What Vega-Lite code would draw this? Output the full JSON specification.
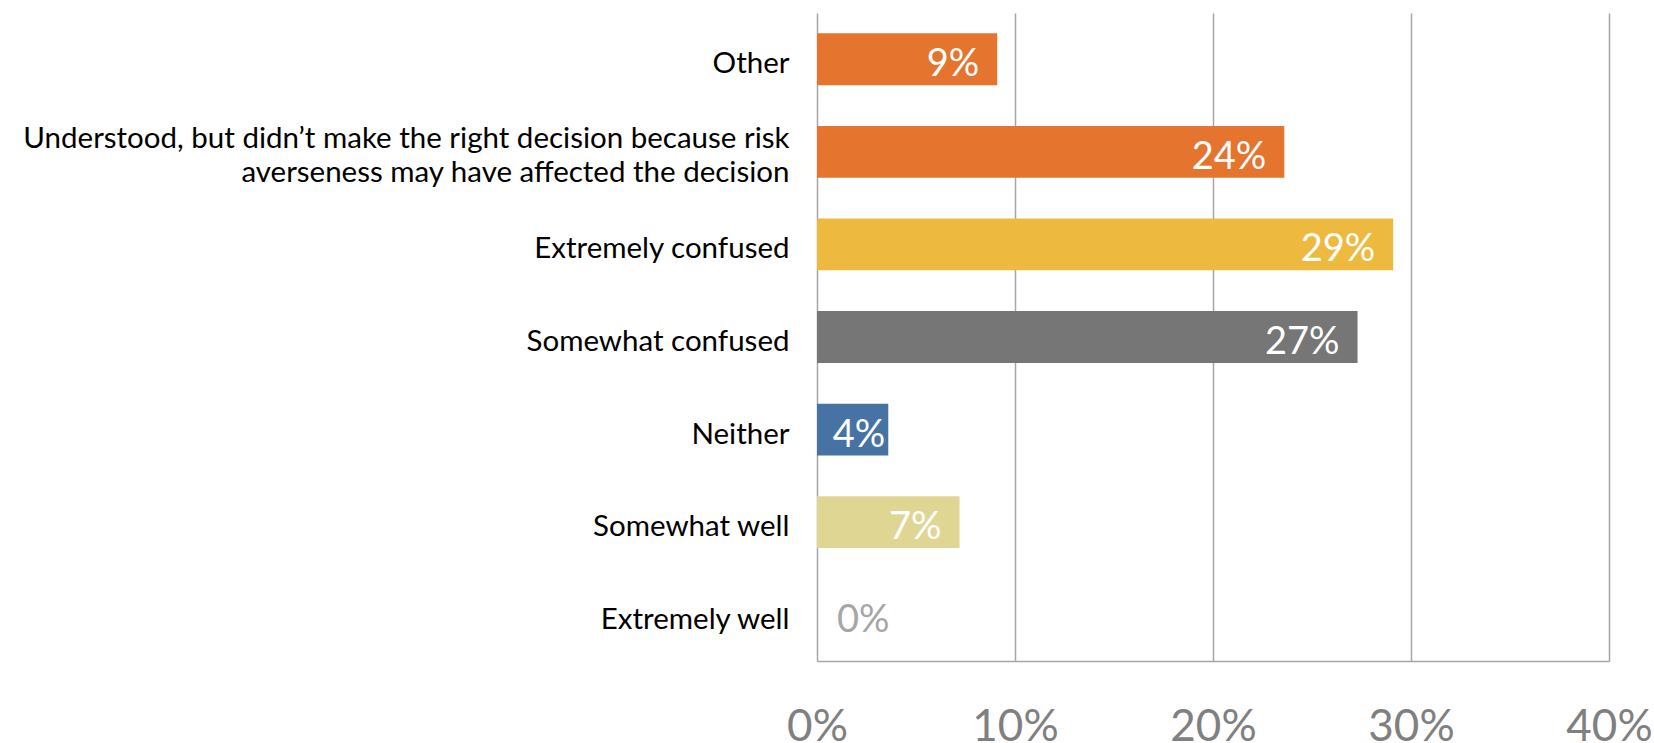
{
  "$schema": "https://vega.github.io/schema/vega-lite/v6.json",
  "autosize": {"type": "none"},
  "width": 792,
  "height": 648,
  "padding": {"left": 817, "top": 13, "right": 45, "bottom": 82},
  "background": "white",
  "config": {"view": {"stroke": null}, "font": "Lato"},
  "data": {
    "values": [
      {"category": "Other", "value": 0.091},
      {"category": "Understood, but didn’t make the right decision because risk averseness may have affected the decision", "value": 0.236},
      {"category": "Extremely confused", "value": 0.291},
      {"category": "Somewhat confused", "value": 0.273},
      {"category": "Neither", "value": 0.036},
      {"category": "Somewhat well", "value": 0.072},
      {"category": "Extremely well", "value": 0.0}
    ]
  },
  "encoding": {
    "y": {
      "field": "category",
      "type": "nominal",
      "sort": null,
      "scale": {"paddingInner": 0.44, "paddingOuter": 0.22},
      "axis": {
        "title": null,
        "domain": false,
        "ticks": false,
        "labelPadding": 28,
        "labelLimit": 900,
        "labelFont": "Lato",
        "labelFontSize": 29.5,
        "labelColor": "#000000",
        "labelLineHeight": 34,
        "labelOffset": {"condition": {"test": "indexof(datum.value, 'because risk ') > 0", "value": -13}, "value": 5},
        "labelExpr": "indexof(datum.label, 'because risk ') > 0 ? [slice(datum.label, 0, indexof(datum.label, 'because risk ') + 12), slice(datum.label, indexof(datum.label, 'because risk ') + 13)] : datum.label"
      }
    }
  },
  "layer": [
    {
      "mark": {"type": "bar"},
      "encoding": {
        "x": {
          "field": "value",
          "type": "quantitative",
          "scale": {"domain": [0, 0.4]},
          "axis": {
            "title": null,
            "values": [0, 0.1, 0.2, 0.3, 0.4],
            "format": ".0%",
            "grid": true,
            "gridColor": "#a6a6a6",
            "gridWidth": 1.5,
            "domain": true,
            "domainColor": "#a6a6a6",
            "domainWidth": 1.5,
            "ticks": false,
            "labelFlush": false,
            "labelBound": false,
            "labelOverlap": false,
            "labelPadding": 44,
            "labelFont": "Lato",
            "labelFontSize": 44,
            "labelColor": "#808080"
          }
        },
        "color": {
          "field": "category",
          "type": "nominal",
          "legend": null,
          "scale": {
            "domain": [
              "Other",
              "Understood, but didn’t make the right decision because risk averseness may have affected the decision",
              "Extremely confused",
              "Somewhat confused",
              "Neither",
              "Somewhat well",
              "Extremely well"
            ],
            "range": ["#E5742E", "#E5742E", "#EDBA3F", "#767676", "#4673A3", "#E0D694", "#9E9E9E"]
          }
        }
      }
    },
    {
      "transform": [{"filter": "datum.value >= 0.05"}],
      "mark": {"type": "text", "align": "right", "baseline": "middle", "dx": -18, "dy": 6, "color": "white", "font": "Lato", "fontSize": 38},
      "encoding": {
        "x": {"field": "value", "type": "quantitative"},
        "text": {"field": "value", "type": "quantitative", "format": ".0%"}
      }
    },
    {
      "transform": [{"filter": "datum.value > 0 && datum.value < 0.05"}],
      "mark": {"type": "text", "align": "right", "baseline": "middle", "dx": -3, "dy": 6, "color": "white", "font": "Lato", "fontSize": 38},
      "encoding": {
        "x": {"field": "value", "type": "quantitative"},
        "text": {"field": "value", "type": "quantitative", "format": ".0%"}
      }
    },
    {
      "transform": [{"filter": "datum.value == 0"}],
      "mark": {"type": "text", "align": "left", "baseline": "middle", "dx": 20, "dy": 6, "color": "#A6A6A6", "font": "Lato", "fontSize": 38},
      "encoding": {
        "x": {"field": "value", "type": "quantitative"},
        "text": {"field": "value", "type": "quantitative", "format": ".0%"}
      }
    }
  ]
}
